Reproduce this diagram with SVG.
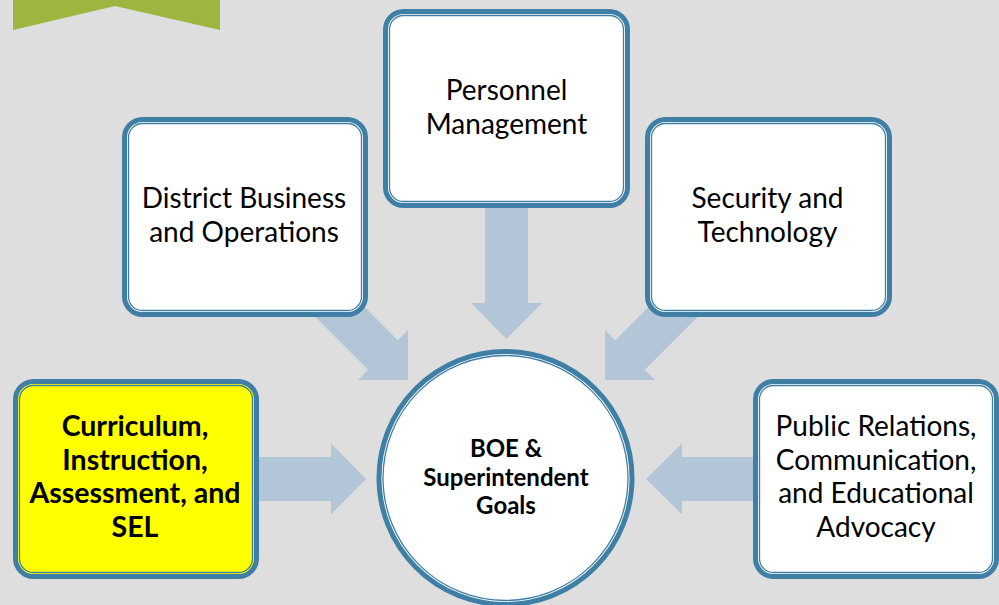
<svg xmlns="http://www.w3.org/2000/svg" width="999" height="605" viewBox="0 0 999 605">
<defs>
<style>
.bg{fill:#dedede}
.arrow{fill:#b3c6d8}
.outer{fill:#ffffff;stroke:#3f7fa6;stroke-width:5}
.inner{fill:none;stroke:#3f7fa6;stroke-width:1.3}
.yel{fill:#ffff00}
.t{font-family:Lato,"Liberation Sans",sans-serif;font-size:28px;fill:#000;text-anchor:middle}
.b{font-weight:bold;font-size:28.5px}
.c{font-weight:bold;font-size:24px}
</style>
</defs>
<rect class="bg" x="0" y="0" width="999" height="605"/>
<polygon points="13,0 220,0 220,30 115,6 13,30" fill="#9cb63f"/>
<g id="connectors">
<polygon class="arrow" points="485,200 528,200 528,303 542,303 506.5,339 471,303 485,303"/>
<polygon class="arrow" points="314.85,257.15 397.85,340.15 408,330 408,380 358,380 368.15,369.85 285.15,286.85"/>
<polygon class="arrow" points="698.15,257.15 615.15,340.15 605,330 605,380 655,380 644.85,369.85 727.85,286.85"/>
<polygon class="arrow" points="250,457 331,457 331,443.5 366,479 331,514.5 331,501 250,501"/>
<polygon class="arrow" points="760,457 682,457 682,443.5 646,479 682,514.5 682,501 760,501"/>
</g>
<g id="personnel">
<rect class="outer" x="385.5" y="11.5" width="242" height="194" rx="18"/>
<rect class="inner" x="389.5" y="15.5" width="234" height="186" rx="14"/>
<text class="t" x="506.5" y="100">Personnel</text>
<text class="t" x="506.5" y="134">Management</text>
</g>
<g id="district">
<rect class="outer" x="124.5" y="119.5" width="241" height="195" rx="18"/>
<rect class="inner" x="128.5" y="123.5" width="233" height="187" rx="14"/>
<text class="t" x="244" y="208">District Business</text>
<text class="t" x="244" y="242">and Operations</text>
</g>
<g id="security">
<rect class="outer" x="647.5" y="119.5" width="242" height="195" rx="18"/>
<rect class="inner" x="651.5" y="123.5" width="234" height="187" rx="14"/>
<text class="t" x="767.5" y="208">Security and</text>
<text class="t" x="767.5" y="242">Technology</text>
</g>
<g id="curriculum">
<rect class="outer yel" x="15.5" y="381.5" width="241" height="195" rx="18"/>
<rect class="inner" x="19.5" y="385.5" width="233" height="187" rx="14"/>
<text class="t b" x="135" y="436">Curriculum,</text>
<text class="t b" x="135" y="470">Instruction,</text>
<text class="t b" x="135" y="503">Assessment, and</text>
<text class="t b" x="135" y="537">SEL</text>
</g>
<g id="public">
<rect class="outer" x="755.5" y="381.5" width="241" height="195" rx="18"/>
<rect class="inner" x="759.5" y="385.5" width="233" height="187" rx="14"/>
<text class="t" x="876" y="436">Public Relations,</text>
<text class="t" x="876" y="470">Communication,</text>
<text class="t" x="876" y="503">and Educational</text>
<text class="t" x="876" y="537">Advocacy</text>
</g>
<g id="goals">
<circle class="outer" cx="505.5" cy="478" r="126.5"/>
<circle class="inner" cx="505.5" cy="478" r="122.5"/>
<text class="t c" x="506" y="457">BOE &amp;</text>
<text class="t c" x="506" y="486">Superintendent</text>
<text class="t c" x="506" y="514">Goals</text>
</g>
</svg>
